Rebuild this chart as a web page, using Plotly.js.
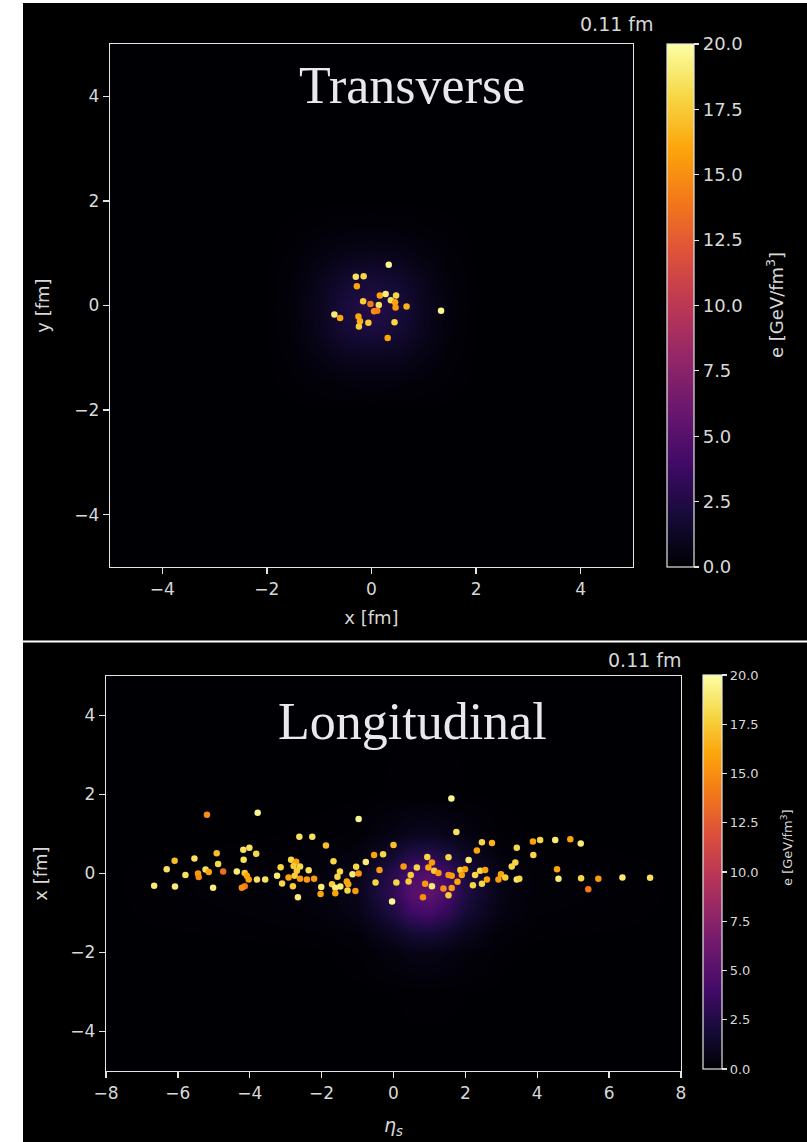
<!DOCTYPE html>
<html>
<head>
<meta charset="utf-8">
<script src="https://cdn.plot.ly/plotly-3.0.1.min.js"></script>
<style>html,body{margin:0;padding:0;background:#000;}#chart{width:807px;height:1142px;}</style>
</head>
<body>
<div id="chart"></div>
<script>
// ---------- Transverse panel: particles (x, y in fm; e in GeV/fm^3) ----------
const TOP_X = [0.33,-0.30,-0.15,-0.28,0.16,0.27,0.47,0.37,0.45,-0.16,-0.02,0.14,0.46,0.67,0.05,0.11,1.33,-0.71,-0.60,-0.25,-0.22,-0.06,0.44,-0.24,0.31];
const TOP_Y = [0.78,0.55,0.56,0.37,0.19,0.22,0.19,0.10,0.06,0.08,0.03,0.01,-0.04,-0.02,-0.11,-0.10,-0.10,-0.17,-0.24,-0.21,-0.30,-0.33,-0.32,-0.40,-0.62];
const TOP_E = [19.5,18.5,18,16,16,19,18,18.5,16,17.5,14,18.5,15.5,16.5,15,14.5,19.5,19,16,16,16.5,17.5,18,17.5,16];

// Transverse energy-density field (coarse grid)
const TOP_HX = [-5,-2,-1.5,-1,-0.5,0,0.5,1,1.5,2,5];
const TOP_HY = [-5,-2,-1.5,-1,-0.5,0,0.5,1,1.5,2,5];
const TOP_HZ = [
  [0,0,0,0,0,0,0,0,0,0,0],
  [0,0,0,0,0,0,0,0,0,0,0],
  [0,0,0.05,0.15,0.25,0.3,0.25,0.15,0.05,0,0],
  [0,0,0.15,0.5,0.9,1.0,0.9,0.5,0.15,0,0],
  [0,0,0.25,0.9,1.8,2.2,1.8,0.9,0.25,0,0],
  [0,0,0.3,1.0,2.2,2.7,2.2,1.0,0.3,0,0],
  [0,0,0.25,0.8,1.6,1.9,1.6,0.8,0.25,0,0],
  [0,0,0.12,0.4,0.7,0.8,0.7,0.4,0.12,0,0],
  [0,0,0.03,0.1,0.18,0.2,0.18,0.1,0.03,0,0],
  [0,0,0,0,0,0,0,0,0,0,0],
  [0,0,0,0,0,0,0,0,0,0,0]
];

// ---------- Longitudinal panel: particles (eta_s, x in fm; e) ----------
const LONG_ETA = [-5.19,-3.78,-0.97,-2.62,-2.26,-1.88,-4.18,-4.01,-3.82,-4.92,-6.09,-5.54,-4.17,-4.88,-6.31,-5.23,-5.14,-5.44,-5.42,-5.79,-4.74,-4.36,-4.14,-4.08,-4.03,-3.80,-3.57,-4.14,-4.22,-6.66,-6.08,-5.02,-3.24,-3.14,-2.85,-2.71,-2.78,-2.60,-2.69,-2.36,-2.92,-2.75,-2.60,-2.41,-2.21,-3.10,-2.80,-2.66,-2.01,-2.03,-1.67,-1.49,-1.56,-1.71,-1.62,-1.48,-1.30,-1.26,-1.28,-1.62,-1.06,-1.04,-1.14,-0.97,-0.77,-0.54,-0.29,0.00,-0.39,-0.50,0.08,-0.04,
  1.61,1.75,0.94,1.53,1.07,2.09,0.28,0.65,0.97,1.13,1.25,1.53,1.62,1.86,1.99,1.90,0.48,0.42,0.88,1.07,1.39,1.62,1.78,1.53,0.82,2.32,2.46,2.74,2.27,2.41,2.55,2.60,2.21,2.46,2.92,2.99,3.11,3.43,3.29,3.39,3.43,3.50,3.88,4.08,4.50,4.92,5.21,3.89,4.55,4.59,5.22,5.70,5.42,6.37,7.14];
const LONG_X = [1.49,1.54,1.38,0.93,0.93,0.71,0.60,0.65,0.50,0.51,0.32,0.38,0.35,0.24,0.11,0.10,0.04,0.00,-0.09,-0.04,0.05,0.05,0.01,-0.06,-0.15,-0.15,-0.15,-0.32,-0.36,-0.31,-0.33,-0.36,-0.06,0.16,0.35,0.30,0.19,0.18,0.07,0.08,-0.10,-0.06,-0.13,-0.15,-0.13,-0.25,-0.32,-0.60,-0.34,-0.52,0.31,0.05,-0.08,-0.27,-0.36,-0.33,-0.20,-0.27,-0.43,-0.50,-0.44,0.17,-0.02,0.00,0.29,0.47,0.49,0.72,0.09,-0.23,-0.23,-0.71,
  1.90,1.05,0.42,0.41,0.28,0.34,0.18,0.15,0.15,0.07,0.01,-0.04,-0.06,0.09,0.11,-0.04,-0.04,-0.20,-0.26,-0.32,-0.38,-0.37,-0.21,-0.55,-0.60,0.58,0.79,0.77,-0.04,0.07,0.09,-0.15,-0.30,-0.26,-0.15,-0.02,-0.10,0.65,0.18,0.28,-0.15,-0.13,0.81,0.85,0.85,0.87,0.76,0.47,0.11,-0.13,-0.12,-0.13,-0.40,-0.10,-0.11];
const LONG_E = [15,19.5,19.5,18.5,18.5,17,18.5,18.5,18,17,17,18.5,18.5,18,18.5,18.5,16,15.5,15,18.5,13.5,19,17.5,16,16,18.5,18.5,14,15,19,19,19,19,18,18,16,17.5,18,17.5,18.5,16,17.5,15.5,15.5,15.5,18,17.5,19,19,16,18,18,18,17.5,19,19,16,16,18,16,15.5,18,19,15.5,19,16,18,17,15.5,18,18,19.5,
  19.5,18.5,18,18,15.5,19,15.5,18,16,17.5,15.5,15,15.5,17.5,16,16,17.5,17.5,15.5,19,15,15.5,16,17.5,15,16,18,16.5,18,18,16,16,18,18,15.5,16,17.5,18,18,18,19,18,16,18,19,16,19,18,16,19,18,15.5,14,19,18.5];

// Longitudinal energy-density field (coarse grid)
const LONG_HX = [-8,-4,-2,-1,0,0.5,1,1.5,2,3,4,8];
const LONG_HY = [-5,-3,-2,-1.5,-1,-0.5,0,0.5,1,2,5];
const LONG_HZ = [
  [0,0,0,0,0,0,0,0,0,0,0,0],
  [0,0,0,0,0.02,0.03,0.03,0.03,0.02,0,0,0],
  [0,0,0,0.07,0.4,0.6,0.65,0.5,0.3,0.04,0,0],
  [0,0.03,0.08,0.25,1.15,1.75,1.95,1.55,0.9,0.18,0.03,0],
  [0,0.1,0.25,0.65,2.4,3.7,4.1,3.2,1.85,0.5,0.1,0],
  [0,0.15,0.35,0.85,3.2,5.0,5.5,4.35,2.45,0.6,0.15,0],
  [0,0.15,0.35,0.8,2.85,4.4,4.85,3.85,2.2,0.55,0.15,0],
  [0,0.05,0.18,0.4,1.6,2.5,2.8,2.2,1.25,0.28,0.05,0],
  [0,0,0.04,0.12,0.56,0.88,0.97,0.77,0.43,0.06,0,0],
  [0,0,0,0,0.03,0.04,0.04,0.04,0.02,0,0,0],
  [0,0,0,0,0,0,0,0,0,0,0,0]
];

const TOP_XTICKS = [-4,-2,0,2,4];
const LONG_XTICKS = [-8,-6,-4,-2,0,2,4,6,8];
const Y_TICKS = [-4,-2,0,2,4];
const CB_TICKS = [0,2.5,5,7.5,10,12.5,15,17.5,20];
const TIME_LABEL = '0.11 fm';
const CB_TITLE = 'e [GeV/fm<sup>3</sup>]';

// ---------- styling ----------
const INFERNO = [
  [0.0,'#000004'],[0.1,'#160b39'],[0.2,'#420a68'],[0.3,'#6a176e'],[0.4,'#932667'],
  [0.5,'#bc3754'],[0.6,'#dd513a'],[0.7,'#f37819'],[0.8,'#fca50a'],[0.9,'#f6d746'],[1.0,'#fcffa4']
];
const W = 807, H = 1142;
const px = v => v / W;
const py = v => 1 - v / H;
const FG = '#e4e4e4';
const TXT = '#d8d8d8';
const FONT = 'DejaVu Sans';

function axisStyle(extra) {
  return Object.assign({
    showline: true, mirror: true, linecolor: FG, linewidth: 1.3,
    ticks: 'outside', ticklen: 6, tickwidth: 1.3, tickcolor: FG,
    showgrid: false, zeroline: false, automargin: false, fixedrange: true,
    tickmode: 'array',
    tickfont: {family: FONT, size: 17, color: TXT}
  }, extra);
}
function cbar(x, y0, len, thick, fsize) {
  return {
    x: px(x), xanchor: 'left', y: py(y0), yanchor: 'bottom',
    len: len, lenmode: 'pixels', thickness: thick, thicknessmode: 'pixels',
    xpad: 0, ypad: 0, outlinecolor: FG, outlinewidth: 1.2,
    ticks: 'outside', ticklen: 5, tickcolor: FG, tickwidth: 1.2,
    tickmode: 'array', tickvals: CB_TICKS, ticktext: CB_TICKS.map(v => v.toFixed(1)),
    tickfont: {family: FONT, size: fsize, color: TXT}
  };
}

const traces = [
  {type: 'heatmap', x: TOP_HX, y: TOP_HY, z: TOP_HZ, zsmooth: 'best', coloraxis: 'coloraxis', xaxis: 'x', yaxis: 'y', hoverinfo: 'skip'},
  {type: 'scatter', mode: 'markers', x: TOP_X, y: TOP_Y, xaxis: 'x', yaxis: 'y',
   marker: {size: 6.5, color: TOP_E, coloraxis: 'coloraxis', line: {width: 0}}},
  {type: 'heatmap', x: LONG_HX, y: LONG_HY, z: LONG_HZ, zsmooth: 'best', coloraxis: 'coloraxis2', xaxis: 'x2', yaxis: 'y2', hoverinfo: 'skip'},
  {type: 'scatter', mode: 'markers', x: LONG_ETA, y: LONG_X, xaxis: 'x2', yaxis: 'y2',
   marker: {size: 6.5, color: LONG_E, coloraxis: 'coloraxis2', line: {width: 0}}}
];

const layout = {
  width: W, height: H, margin: {l: 0, r: 0, t: 0, b: 0},
  paper_bgcolor: '#000', plot_bgcolor: '#000', showlegend: false,
  font: {family: FONT, color: TXT},
  xaxis: axisStyle({domain: [px(110), px(633)], range: [-5, 5], anchor: 'y', tickvals: TOP_XTICKS,
    title: {text: 'x [fm]', font: {family: FONT, size: 18, color: TXT}, standoff: 13}}),
  yaxis: axisStyle({domain: [py(567), py(44)], range: [-5, 5], anchor: 'x', tickvals: Y_TICKS,
    title: {text: 'y [fm]', font: {family: FONT, size: 18, color: TXT}, standoff: 20}}),
  xaxis2: axisStyle({domain: [px(106), px(681)], range: [-8, 8], anchor: 'y2', tickvals: LONG_XTICKS,
    title: {text: '<i>η<sub>s</sub></i>', font: {family: FONT, size: 19, color: TXT}, standoff: 17}}),
  yaxis2: axisStyle({domain: [py(1071), py(676)], range: [-5, 5], anchor: 'x2', tickvals: Y_TICKS,
    title: {text: 'x [fm]', font: {family: FONT, size: 18, color: TXT}, standoff: 18}}),
  coloraxis: {cmin: 0, cmax: 20, colorscale: INFERNO, colorbar: cbar(667, 567, 523, 27, 18)},
  coloraxis2: {cmin: 0, cmax: 20, colorscale: INFERNO, colorbar: cbar(703, 1069, 394, 19, 13)},
  shapes: [
    {type: 'rect', xref: 'paper', yref: 'paper', x0: 0, x1: px(23), y0: 0, y1: 1, fillcolor: '#fff', line: {width: 0}, layer: 'above'},
    {type: 'rect', xref: 'paper', yref: 'paper', x0: 0, x1: 1, y0: py(3), y1: 1, fillcolor: '#fff', line: {width: 0}, layer: 'above'},
    {type: 'line', xref: 'paper', yref: 'paper', x0: px(23), x1: 1, y0: py(641.5), y1: py(641.5), line: {color: '#fff', width: 2}, layer: 'above'}
  ],
  annotations: [
    {xref: 'paper', yref: 'paper', x: px(617), y: py(24), text: TIME_LABEL, showarrow: false,
     font: {family: FONT, size: 19, color: TXT}, xanchor: 'center', yanchor: 'middle'},
    {xref: 'paper', yref: 'paper', x: px(645), y: py(660), text: TIME_LABEL, showarrow: false,
     font: {family: FONT, size: 19, color: TXT}, xanchor: 'center', yanchor: 'middle'},
    {xref: 'paper', yref: 'paper', x: px(412), y: py(86), text: 'Transverse', showarrow: false,
     font: {family: 'Liberation Serif', size: 52, color: '#e8e8ee'}, xanchor: 'center', yanchor: 'middle'},
    {xref: 'paper', yref: 'paper', x: px(412), y: py(721), text: 'Longitudinal', showarrow: false,
     font: {family: 'Liberation Serif', size: 52, color: '#e8e8ee'}, xanchor: 'center', yanchor: 'middle'},
    {xref: 'paper', yref: 'paper', x: px(775), y: py(305), text: CB_TITLE, showarrow: false, textangle: -90,
     font: {family: FONT, size: 18, color: TXT}, xanchor: 'center', yanchor: 'middle'},
    {xref: 'paper', yref: 'paper', x: px(787), y: py(848), text: CB_TITLE, showarrow: false, textangle: -90,
     font: {family: FONT, size: 13, color: TXT}, xanchor: 'center', yanchor: 'middle'}
  ]
};

Plotly.newPlot('chart', traces, layout, {staticPlot: true, displayModeBar: false});
</script>
</body>
</html>
